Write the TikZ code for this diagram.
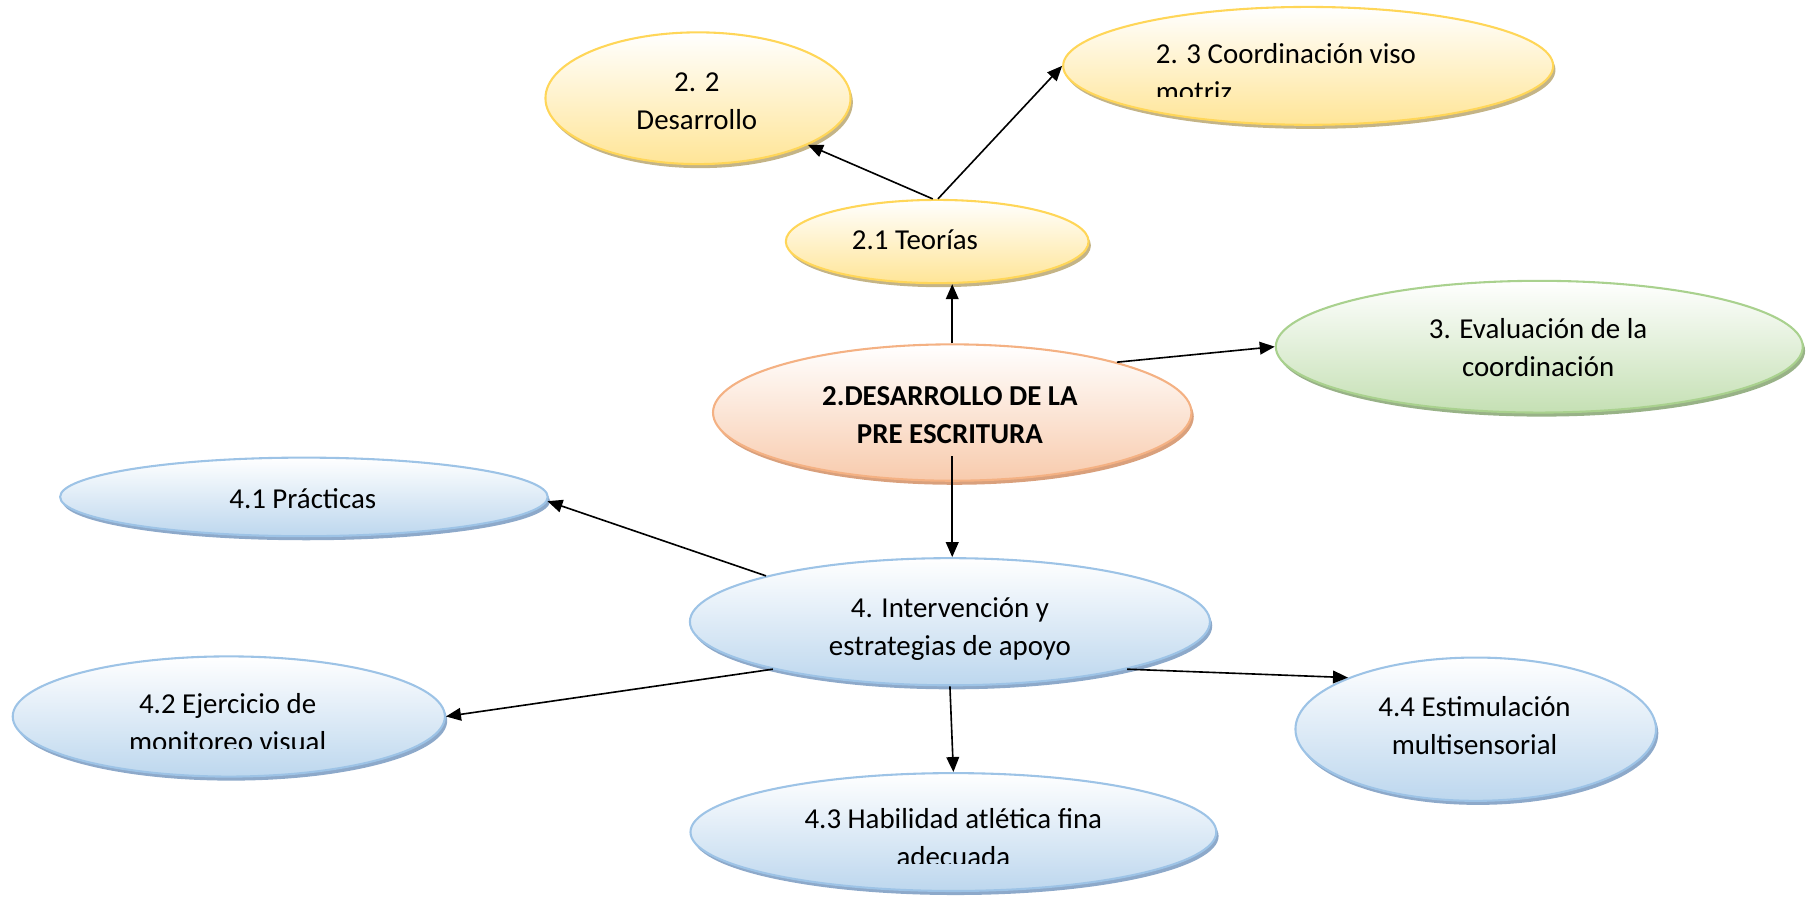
\documentclass[tikz,border=0pt]{standalone}
\usepackage{fontspec}
\setmainfont{Carlito}
\usetikzlibrary{shapes.geometric,arrows.meta,shadows}
\definecolor{ybord}{HTML}{FFD658}
\definecolor{yfill}{HTML}{FFE597}
\definecolor{yshad}{HTML}{C4B486}
\definecolor{obord}{HTML}{F4B183}
\definecolor{ofill}{HTML}{F8CBAD}
\definecolor{oshad}{HTML}{D9A07C}
\definecolor{gbord}{HTML}{A9D18E}
\definecolor{gfill}{HTML}{C5E0B4}
\definecolor{gshad}{HTML}{98B287}
\definecolor{bbord}{HTML}{9DC3E6}
\definecolor{bfill}{HTML}{BDD7EE}
\definecolor{bshad}{HTML}{8DA9CA}
\begin{document}
\begin{tikzpicture}[x=1pt,y=1pt,
  ell/.style={ellipse, inner sep=0pt, line width=1.8pt},
  yel/.style={ell, draw=ybord, top color=white, bottom color=yfill,
    general shadow={shadow xshift=2pt, shadow yshift=-3.5pt, fill=yshad}},
  ora/.style={ell, draw=obord, top color=white, bottom color=ofill,
    general shadow={shadow xshift=2pt, shadow yshift=-3.5pt, fill=oshad}},
  gre/.style={ell, draw=gbord, top color=white, bottom color=gfill,
    general shadow={shadow xshift=2pt, shadow yshift=-3.5pt, fill=gshad}},
  blu/.style={ell, draw=bbord, top color=white, bottom color=bfill,
    general shadow={shadow xshift=2pt, shadow yshift=-3.5pt, fill=bshad}},
  txt/.style={font=\fontsize{25}{33}\selectfont, align=center, inner sep=0pt, anchor=base},
  ltxt/.style={font=\fontsize{25}{33}\selectfont, align=left, inner sep=0pt, anchor=base west},
  arr/.style={-{Triangle[length=13pt,width=11pt]}, line width=1.4pt}]
\useasboundingbox (0,0) rectangle (1568,-776);

% ellipses
\node[yel, minimum width=264pt, minimum height=114pt] (e22) at (604,-85) {};
\node[yel, minimum width=424pt, minimum height=102pt] (e23) at (1132,-57) {};
\node[yel, minimum width=262pt, minimum height=72pt] (e21) at (811,-209) {};
\node[ora, minimum width=414pt, minimum height=118pt] (cen) at (824,-357) {};
\node[gre, minimum width=456pt, minimum height=114pt] (e3) at (1332,-300) {};
\node[blu, minimum width=422pt, minimum height=68pt] (e41) at (263,-430) {};
\node[blu, minimum width=450pt, minimum height=110pt] (e4) at (822,-538) {};
\node[blu, minimum width=374pt, minimum height=104pt] (e42) at (198,-620) {};
\node[blu, minimum width=455pt, minimum height=102pt] (e43) at (825,-720) {};
\node[blu, minimum width=312pt, minimum height=124pt] (e44) at (1277,-631) {};

% texts (multi-line nodes are anchored at the baseline of their last line)
\node[txt] (t22) at (603,-112) {2. 2\\Desarrollo};
\begin{scope}
  \clip (900,0) rectangle (1400,-83.6);
  \node[ltxt] (t23) at (1000,-88) {2. 3 Coordinación viso\\motriz};
\end{scope}
\node[ltxt] (t21) at (737,-216) {2.1 Teorías};
\node[txt, font=\fontsize{25}{33}\selectfont\bfseries] (tcen) at (822,-383.5) {2.DESARROLLO DE LA\\PRE ESCRITURA};
\node[txt] (t3) at (1331,-326) {3. Evaluación de la\\coordinación};
\node[txt] (t41) at (262,-440) {4.1 Prácticas};
\node[txt] (t4) at (822,-567) {4. Intervención y\\estrategias de apoyo};
\begin{scope}
  \clip (0,-560) rectangle (400,-648);
  \node[txt] (t42) at (197,-650.6) {4.2 Ejercicio de\\monitoreo visual};
\end{scope}
\begin{scope}
  \clip (590,-680) rectangle (1060,-747.2);
  \node[txt] (t43) at (825,-750) {4.3 Habilidad atlética fina\\adecuada};
\end{scope}
\node[txt] (t44) at (1276,-653) {4.4 Estimulación\\multisensorial};

% connectors
\draw[arr] (e21.96) -- (e22.-23.5);
\draw[arr] (e21.89) -- (e23.west);
\draw[arr] (cen.north) -- (cen.north |- e21.south);
\draw[arr] (cen.17) -- (e3.west);
\draw[arr] ([yshift=22pt]cen.south) -- (cen.south |- e4.north);
\draw[arr] (e4.166.5) -- (e41.-1);
\draw[arr] (e4.195.2) -- (e42.east);
\draw[arr] (e4.south) -- (e43.north);
\draw[arr] (e4.-15.1) -- (e44.158.1);
\end{tikzpicture}
\end{document}
